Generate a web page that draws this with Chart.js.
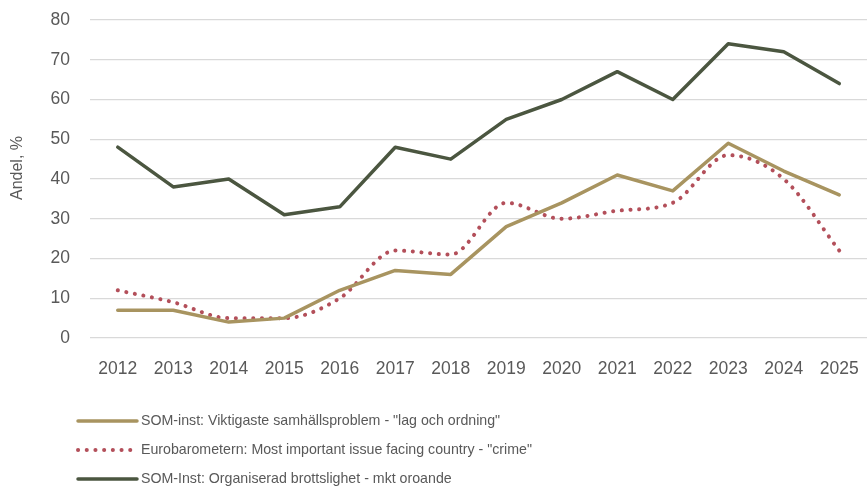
<!DOCTYPE html>
<html>
<head>
<meta charset="utf-8">
<script src="https://cdn.jsdelivr.net/npm/chart.js@4"></script>
<style>
html,body{margin:0;padding:0;background:#fff;}
#wrap{width:867px;height:486px;position:relative;}
</style>
</head>
<body>
<div id="wrap"><canvas id="c" width="867" height="486"></canvas></div>
<script>
const years = ["2012","2013","2014","2015","2016","2017","2018","2019","2020","2021","2022","2023","2024","2025"];
const somLagOrdning = [7, 7, 4, 5, 12, 17, 16, 28, 34, 41, 37, 49, 42, 36];
const euroCrime = [12, 9, 5, 5, 10, 22, 21, 34, 30, 32, 34, 46, 40, 22];
const somOrganiserad = [48, 38, 40, 31, 33, 48, 45, 55, 60, 67, 60, 74, 72, 64];
const yTicks = [0, 10, 20, 30, 40, 50, 60, 70, 80];
const labels = [
  'SOM-inst: Viktigaste samhällsproblem - "lag och ordning"',
  'Eurobarometern: Most important issue facing country - "crime"',
  'SOM-Inst: Organiserad brottslighet - mkt oroande'
];
const yTitle = 'Andel, %';
const colTan = '#A89460', colRed = '#B34F5A', colDark = '#4B5640';
const font = "'Liberation Sans', Arial, sans-serif";
const textCol = '#595959';

const legendPlugin = {
  id: 'customLegend',
  afterDraw(chart) {
    const ctx = chart.ctx;
    const rows = [421, 450, 479];
    ctx.save();
    chart.data.datasets.forEach((ds, i) => {
      const y = rows[i];
      ctx.beginPath();
      ctx.strokeStyle = ds.borderColor;
      ctx.lineWidth = ds.borderWidth;
      ctx.lineCap = 'round';
      ctx.setLineDash(ds.borderDash || []);
      ctx.moveTo(78, y);
      ctx.lineTo(137, y);
      ctx.stroke();
      ctx.setLineDash([]);
      ctx.fillStyle = textCol;
      ctx.font = "14.2px " + font;
      ctx.textBaseline = 'middle';
      ctx.textAlign = 'left';
      ctx.fillText(ds.label, 141, y);
    });
    ctx.translate(18, 168);
    ctx.rotate(-Math.PI / 2);
    ctx.font = "16px " + font;
    ctx.textAlign = 'center';
    ctx.textBaseline = 'middle';
    ctx.fillStyle = textCol;
    ctx.fillText(yTitle, 0, 0);
    ctx.restore();
  }
};

new Chart(document.getElementById('c'), {
  type: 'line',
  data: {
    labels: years,
    datasets: [
      {label: labels[0], data: somLagOrdning, borderColor: colTan, backgroundColor: colTan, borderWidth: 3.5, pointRadius: 0, tension: 0, borderCapStyle: 'round', borderJoinStyle: 'round'},
      {label: labels[1], data: euroCrime, borderColor: colRed, backgroundColor: colRed, borderWidth: 4, borderDash: [0.1, 8.6], borderCapStyle: 'round', pointRadius: 0, cubicInterpolationMode: 'monotone'},
      {label: labels[2], data: somOrganiserad, borderColor: colDark, backgroundColor: colDark, borderWidth: 3.5, pointRadius: 0, tension: 0, borderCapStyle: 'round', borderJoinStyle: 'round'}
    ]
  },
  options: {
    responsive: false,
    animation: false,
    layout: {padding: {top: 20, right: 0, left: 0, bottom: 0}},
    plugins: {legend: {display: false}, tooltip: {enabled: false}},
    scales: {
      x: {
        offset: true,
        grid: {display: false},
        border: {display: false},
        ticks: {color: textCol, font: {family: font, size: 17.5}, padding: 13, maxRotation: 0, autoSkip: false},
        afterFit(scale) { scale.height = 148; scale.paddingLeft = 0; scale.paddingRight = 0; }
      },
      y: {
        min: 0, max: 80,
        afterBuildTicks(scale) { scale.ticks = yTicks.map(v => ({value: v})); },
        grid: {color: '#d9d9d9', lineWidth: 1.3, drawTicks: false},
        border: {display: false},
        ticks: {color: textCol, font: {family: font, size: 17.5}, padding: 20},
        afterFit(scale) { scale.width = 90; scale.paddingTop = 0; scale.paddingBottom = 0; }
      }
    }
  },
  plugins: [legendPlugin]
});
</script>
</body>
</html>
